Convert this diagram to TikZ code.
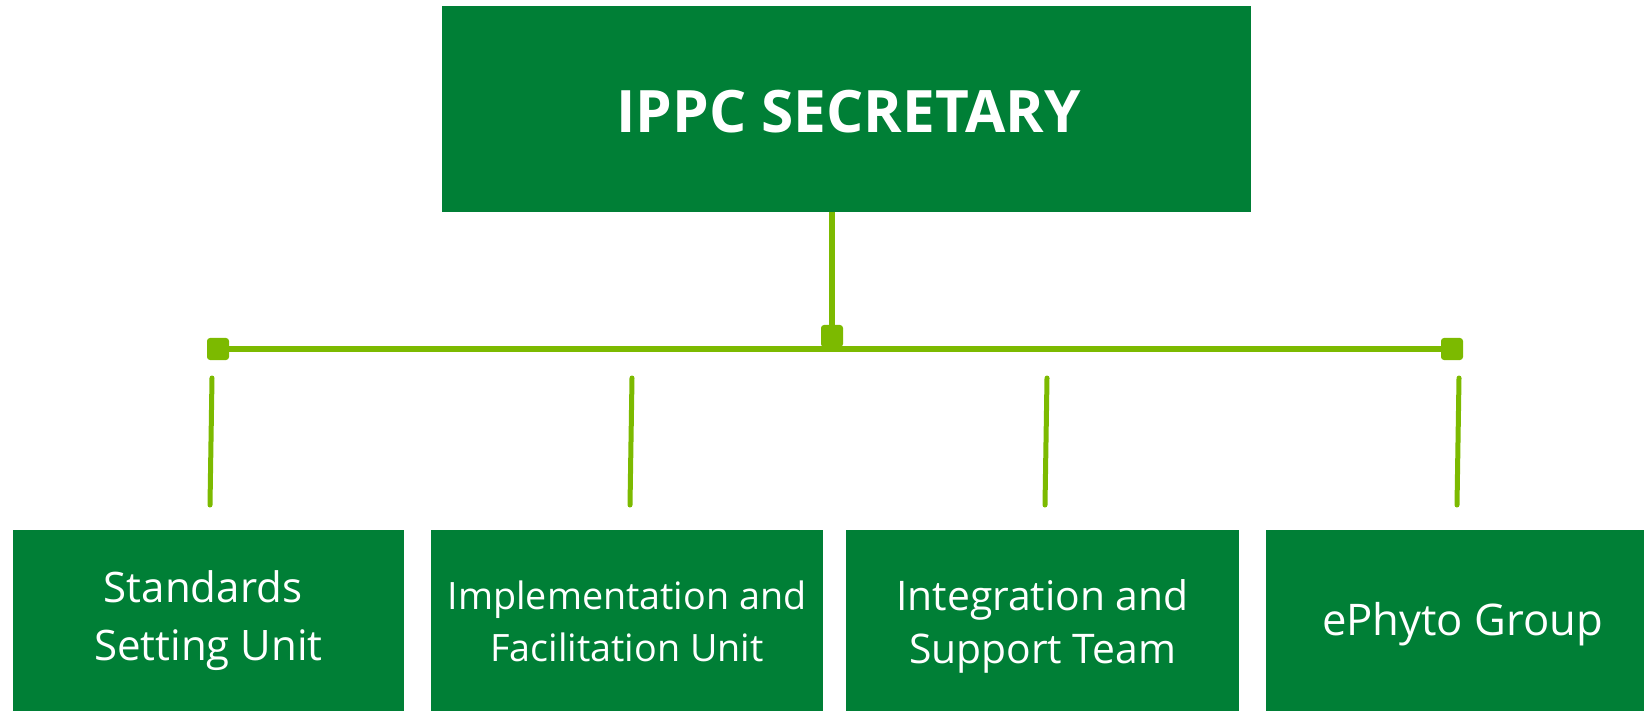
\documentclass[tikz,border=0pt]{standalone}
\usepackage{fontspec}
\setmainfont{Open Sans}
\definecolor{boxgreen}{RGB}{0,127,54}
\definecolor{linegreen}{RGB}{124,186,0}
\tikzset{
  unitbox/.style={fill=boxgreen, text=white, inner sep=0pt, align=center},
  knot/.style={fill=linegreen, rounded corners=3pt, minimum size=22pt, inner sep=0pt},
  bar/.style={draw=linegreen, line width=6pt},
  drop/.style={draw=linegreen, line width=5pt, line cap=round}
}
\begin{document}
\begin{tikzpicture}[x=1pt,y=-1pt]
\useasboundingbox (0,0) rectangle (1644,711);
% top box
\node[fill=boxgreen, minimum width=809pt, minimum height=206pt, inner sep=0pt] (top) at (846.5,109) {};
\node[text=white, font=\bfseries\fontsize{58.5}{62}\selectfont, anchor=base] (title) at (848.5,133) {IPPC SECRETARY};
% knots
\node[knot] (msq) at (832,336) {};
\node[knot] (lsq) at (218,349) {};
\node[knot] (rsq) at (1452,349) {};
\draw[bar] (top.south -| msq) -- (msq.south);
\draw[bar] (lsq.east) -- (rsq.west);
% bottom boxes (top edge at y=530, lower part runs off the page)
\node[unitbox, minimum width=391pt, minimum height=182pt, font=\fontsize{42}{58}\selectfont] (u1) at (208.5,621) {Standards\hspace*{11pt}\\Setting Unit};
\node[unitbox, minimum width=392pt, minimum height=183pt, font=\fontsize{37.7}{52}\selectfont] (u2) at (627,621.5) {Implementation and\\Facilitation Unit};
\node[unitbox, minimum width=393pt, minimum height=192pt, font=\fontsize{40.8}{53}\selectfont] (u3) at (1042.5,626) {Integration and\\Support Team};
\node[unitbox, minimum width=393pt, minimum height=187.4pt, font=\fontsize{43.6}{50}\selectfont] (u4) at (1462.5,623.7) {ePhyto Group};
% drops
\coordinate (t1) at (212,378); \coordinate (b1) at (210,505);
\coordinate (t2) at (632,378); \coordinate (b2) at (630,505);
\coordinate (t3) at (1047,378); \coordinate (b3) at (1045,505);
\coordinate (t4) at (1459,378); \coordinate (b4) at (1457,505);
\draw[drop] (t1) -- (b1);
\draw[drop] (t2) -- (b2);
\draw[drop] (t3) -- (b3);
\draw[drop] (t4) -- (b4);
\end{tikzpicture}
\end{document}
